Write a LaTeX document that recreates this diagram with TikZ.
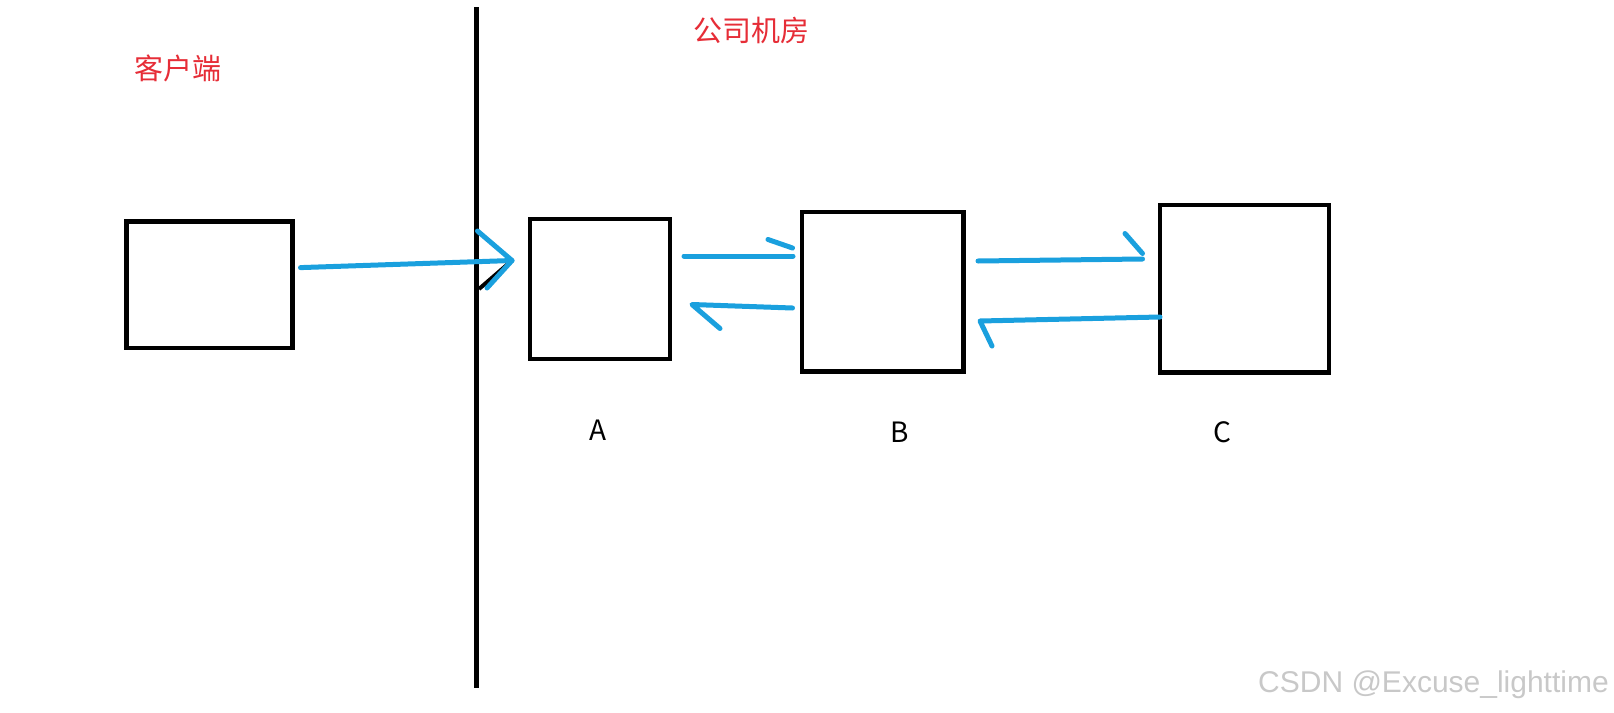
\documentclass[tikz,border=0pt]{standalone}
\usepackage{fontspec}
\setmainfont{Noto Sans CJK SC}
\newfontfamily\wmfont{Liberation Sans}
\definecolor{hred}{RGB}{230,45,55}
\definecolor{hblue}{RGB}{26,160,222}
\definecolor{wmgray}{RGB}{200,200,200}
\begin{document}
\begin{tikzpicture}[x=1pt,y=-1pt,
  box/.style={draw=black,line width=4.5pt,inner sep=0pt,minimum width=#1},
  stroke/.style={draw=hblue,line width=5pt,line cap=round,line join=round},
  cjklabel/.style={text=hred,font=\fontsize{29}{29}\selectfont,inner sep=0pt},
  letter/.style={font=\fontsize{28}{28}\selectfont,inner sep=0pt}]
\useasboundingbox (0,0) rectangle (1614,712);
% divider
\coordinate (wallTop) at (476.5,7);
\coordinate (wallBot) at (476.5,688);
\draw[line width=4.5pt] (wallTop) -- (wallBot);
% boxes
\node[box=0pt,minimum width=165.7pt,minimum height=126.6pt] (client) at (209.5,284.6) {};
\node[box=0pt,minimum width=140pt,minimum height=140pt] (boxA) at (600.1,289.2) {};
\node[box=0pt,minimum width=161.7pt,minimum height=159.6pt] (boxB) at (882.6,291.8) {};
\node[box=0pt,minimum width=168.8pt,minimum height=167.8pt] (boxC) at (1244.4,288.7) {};
% labels
\node[cjklabel] (lclient) at (177.5,68) {客户端};
\node[cjklabel] (lroom) at (751,30) {公司机房};
\node[letter] (lA) at (598,430) {A};
\node[letter] (lB) at (899.6,432.5) {B};
\node[letter] (lC) at (1222.8,432.5) {C};
\node[font=\wmfont\fontsize{30}{30}\selectfont,text=wmgray,anchor=east,inner sep=0pt] (wm) at (1609,685) {CSDN @Excuse\_lighttime};
% client -> A
\coordinate (c1s) at (300.5,267.6);
\coordinate (c1t) at (512,260.5);
\coordinate (c1u) at (477.5,231);
\coordinate (c1d) at (487,288);
\coordinate (c1k) at (479,289);
\draw[line width=4pt] (c1k) -- (c1t);
\draw[stroke] (c1s) -- (c1t);
\draw[stroke] (c1u) -- (c1t) -- (c1d);
% A -> B
\coordinate (abS) at (684,256);
\coordinate (abT) at (793,256);
\coordinate (abH1) at (768,239.5);
\coordinate (abH2) at (792.5,248);
\draw[stroke] (abS) -- (abT);
\draw[stroke] (abH1) -- (abH2);
% B -> A
\coordinate (baS) at (792.5,308);
\coordinate (baT) at (692,304.5);
\coordinate (baH) at (720,328.5);
\draw[stroke] (baS) -- (baT) -- (baH);
% B -> C
\coordinate (bcS) at (978,261);
\coordinate (bcT) at (1142.5,259);
\coordinate (bcH1) at (1125,233.5);
\coordinate (bcH2) at (1142.5,253.5);
\draw[stroke] (bcS) -- (bcT);
\draw[stroke] (bcH1) -- (bcH2);
% C -> B
\coordinate (cbS) at (1160,317);
\coordinate (cbT) at (980,321);
\coordinate (cbH) at (992,346);
\draw[stroke] (cbS) -- (cbT) -- (cbH);
\end{tikzpicture}
\end{document}
